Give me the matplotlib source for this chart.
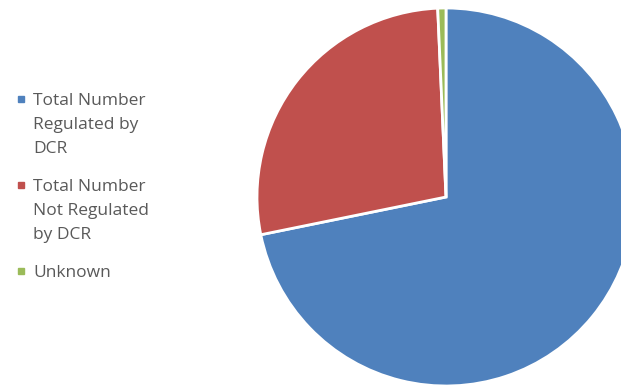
import matplotlib.pyplot as plt
from matplotlib.patches import Rectangle

labels = ['Total Number\nRegulated by\nDCR', 'Total Number\nNot Regulated\nby DCR', 'Unknown']
values = [71.8, 27.5, 0.7]
colors = ['#4F81BD', '#C0504D', '#9BBB59']

W, H = 621, 386
fig = plt.figure(figsize=(W / 100, H / 100), dpi=100)

# pie axes: center (446, 197), radius 189 px
cx, cy, r = 446, 197, 189
ax = fig.add_axes([(cx - r) / W, (H - cy - r) / H, 2 * r / W, 2 * r / H])
ax.pie(values, colors=colors, startangle=90, counterclock=False, radius=1,
       wedgeprops=dict(edgecolor='white', linewidth=2))
ax.set_xlim(-1, 1)
ax.set_ylim(-1, 1)
ax.set_aspect('equal')
ax.axis('off')

# manual legend
y = 105
line_h = 24
for lab, col in zip(labels, colors):
    lines = lab.split('\n')
    fig.patches.append(Rectangle((18 / W, 1 - (y - 3) / H), 6 / W, 6 / H,
                                 transform=fig.transFigure, color=col))
    for i, ln in enumerate(lines):
        fig.text(33 / W, 1 - (y + i * line_h) / H, ln, fontsize=12.5,
                 family='Open Sans', color='#595959', va='baseline', ha='left')
    y += len(lines) * line_h + 14

fig.savefig('out.png', dpi=100)
